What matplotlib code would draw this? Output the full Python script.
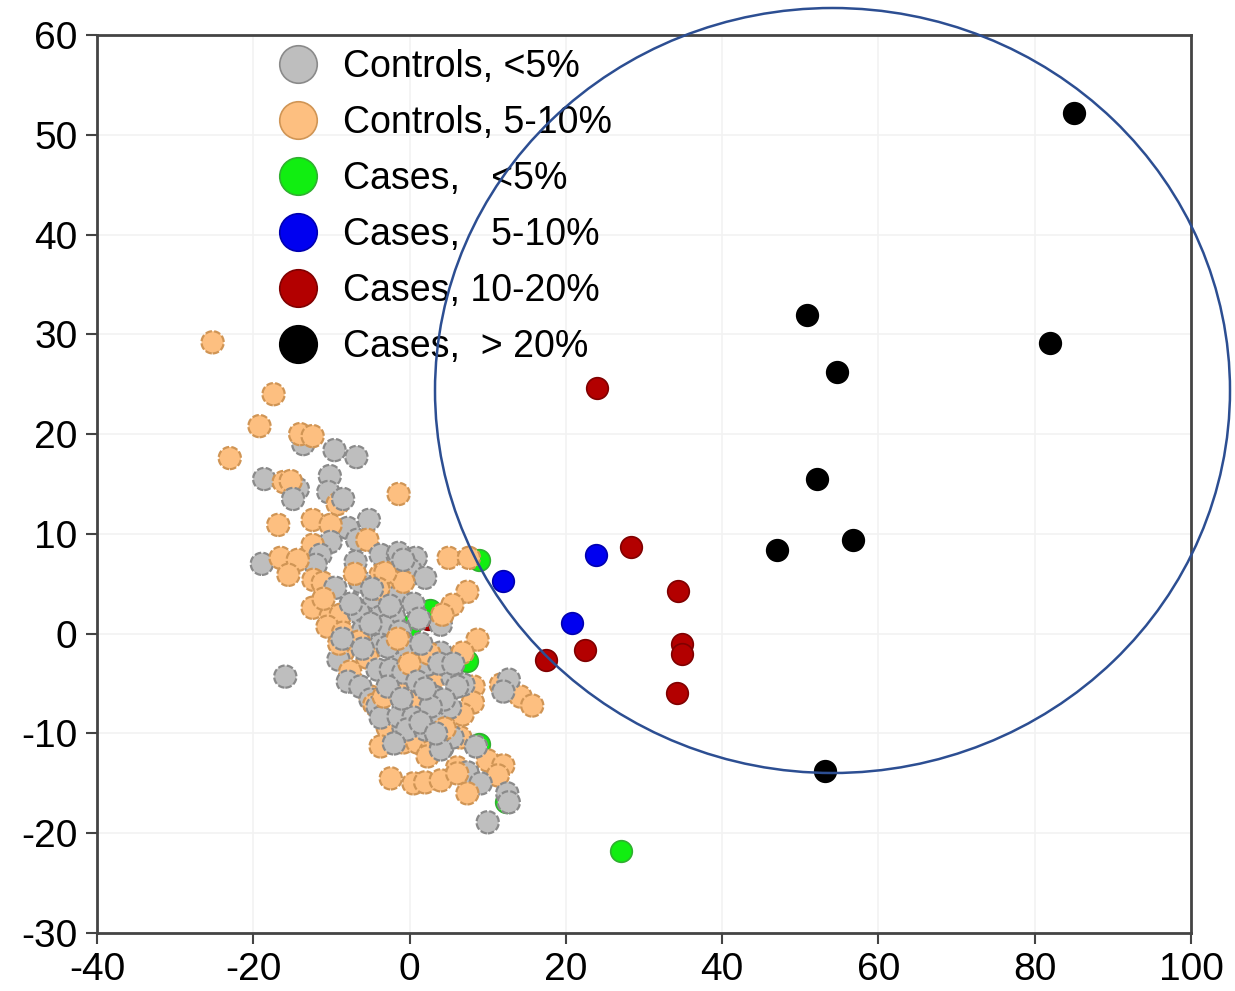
import matplotlib
matplotlib.use("Agg")
import matplotlib.pyplot as plt
from matplotlib.patches import Ellipse
from matplotlib.lines import Line2D

plt.rcParams['font.family'] = ['Liberation Sans', 'DejaVu Sans']

# ---------------- data ----------------
ctrl_lo_x = [-13.6, -9.6, -6.8, -18.6, -14.3, -10.2, -10.4, -14.9, -8.5, -7.9, -5.2, -6.7, -10.1,
             -18.9, -11.4, -12.0, -6.9, -3.7, -1.5, 0.8, 0.1, 2.0, -9.5, -6.3, -4.6, -1.5, -3.7,
             -6.5, -2.0, -5.9, -3.3, -1.2, 4.0, -3.7, -0.8, -9.1, -4.1, -1.5, -7.9, -6.3, -5.0,
             -4.1, -3.7, -0.8, 4.0, -0.3, -2.8, 2.3, -2.4, 5.5, 6.9, 3.1, 5.2, -1.4, 0.5, 3.3,
             12.7, 12.0, -0.3, 2.0, 4.2, 5.5, 8.5, 4.0, 7.4, 9.1, 12.5, 12.7, 10.0, -15.9, -1.4,
             -0.8, -0.8, -2.8, 6.1, 4.4, 2.7, 1.4,
             -7.5, -5.0, -2.5, 0.5, 1.5, 1.0, 3.8, -6.0, -8.6, -1.0, 2.0, 5.6, 3.4, -2.0, -4.8, 1.2]
ctrl_lo_y = [19.0, 18.4, 17.7, 15.5, 14.5, 15.8, 14.2, 13.5, 13.5, 10.6, 11.4, 9.4, 9.2,
             7.0, 7.9, 6.9, 7.2, 7.9, 7.8, 7.6, 6.4, 5.6, 4.6, 5.2, 3.6, 3.7, 1.7,
             2.1, 1.7, 0.4, 0.7, 0.2, 0.9, -1.1, -0.9, -2.6, -3.6, -2.6, -4.8, -5.3, -6.6,
             -7.3, -8.4, -9.3, -1.9, -1.3, -1.3, -3.1, -3.6, -4.4, -5.1, -6.3, -7.4, -8.3, -8.4, -8.9,
             -4.6, -5.8, -9.6, -9.6, -11.4, -10.4, -11.3, -11.6, -13.9, -15.0, -16.0, -16.9, -18.9, -4.3, 8.1,
             7.4, -3.9, -5.3, -5.3, -6.6, -7.3, -8.9,
             3.0, 1.0, 2.8, 3.0, -1.0, -4.8, -3.0, -1.5, -0.5, -6.5, -5.5, -3.0, -10.0, -11.0, 4.5, 1.5]

ctrl_mid_x = [-25.2, -17.4, -19.2, -14.0, -12.4, -23.0, -16.1, -15.2, -9.2, -16.8, -12.4, -10.1,
              -5.4, -12.4, -1.4, -16.5, -14.3, -15.5, -12.3, -11.1, -3.7, -2.0, -12.4, -10.1,
              -8.8, -10.5, -8.5, 5.0, 7.6, 7.4, 5.5, -0.8, -3.1, 4.2, 8.7, -8.5, -5.4, -7.6,
              -5.0, -3.1, -1.2, -4.5, -2.8, -3.7, -0.8, 6.8, 3.3, 8.2, 1.0, 8.1, 6.8, 11.7,
              14.2, 15.7, 1.0, 2.7, 6.5, 10.0, 12.0, 6.1, 2.3, 11.3, -2.4, 0.5, 2.0, 4.0, 6.1,
              7.4, -3.3,
              -9.0, -11.0, -7.0, -4.0, -1.5, 2.5, -6.5, 0.0, 4.5]
ctrl_mid_y = [29.2, 24.0, 20.8, 20.0, 19.8, 17.6, 15.2, 15.3, 13.0, 10.9, 11.4, 10.9,
              9.4, 8.9, 14.0, 7.6, 7.4, 5.9, 5.4, 5.1, 5.9, 5.4, 2.6, 1.7,
              1.9, 0.7, 0.1, 7.6, 7.6, 4.2, 2.9, 5.2, 6.1, 1.9, -0.6, -1.8, -2.4, -3.8,
              -6.3, -6.1, -5.4, -7.1, -9.4, -11.3, -10.9, -1.9, -4.4, -5.3, -6.6, -6.9, -8.1, -5.1,
              -6.3, -7.2, -10.9, -11.8, -10.4, -12.7, -13.2, -13.4, -12.3, -14.2, -14.5, -15.0, -14.9, -14.7, -14.0,
              -16.0, -6.3,
              -1.0, 3.5, 6.0, 4.5, -0.5, -2.0, -0.8, -3.0, -9.5]

case_lo_x = [8.9, 2.6, 0.1, 7.4, 8.9, 12.3, 27.0]
case_lo_y = [7.4, 2.4, 0.8, -2.7, -11.1, -16.9, -21.8]

case_mid_x = [23.9, 11.9, 20.8, 2.4]
case_mid_y = [7.9, 5.3, 1.1, -8.2]

case_hi_x = [24.0, 28.4, 34.4, 34.9, 34.8, 22.5, 17.4, 34.2, 2.4]
case_hi_y = [24.6, 8.7, 4.3, -1.0, -2.0, -1.6, -2.6, -5.9, 1.5]

case_vhi_x = [85.0, 50.8, 81.9, 54.7, 52.1, 47.0, 56.7, 53.1]
case_vhi_y = [52.2, 31.9, 29.1, 26.2, 15.5, 8.4, 9.4, -13.8]

labels = ["Controls, <5%", "Controls, 5-10%", "Cases,   <5%",
          "Cases,   5-10%", "Cases, 10-20%", "Cases,  > 20%"]

x_ticks = [-40, -20, 0, 20, 40, 60, 80, 100]
y_ticks = [-30, -20, -10, 0, 10, 20, 30, 40, 50, 60]

# ---------------- styles ----------------
faces = ["#BEBEBE", "#FDBF80", "#11EE11", "#0000F0", "#B30000", "#000000"]
edges = ["#8A8A8A", "#D09555", "#30B030", "#0000B0", "#800000", "#000000"]

fig = plt.figure(figsize=(12.35, 9.91), dpi=100)
ax = fig.add_axes([0.0785, 0.0585, 0.8859, 0.9062])

ax.set_xlim(-40, 100)
ax.set_ylim(-30, 60)
ax.set_xticks(x_ticks)
ax.set_yticks(y_ticks)
ax.grid(True, color="#F2F2F2", linewidth=1.2, zorder=0)
ax.set_axisbelow(True)

ms = 255
# cases beneath the control cloud
for xs, ys, fc, ec in [(case_vhi_x, case_vhi_y, faces[5], edges[5]),
                       (case_hi_x, case_hi_y, faces[4], edges[4]),
                       (case_mid_x, case_mid_y, faces[3], edges[3]),
                       (case_lo_x, case_lo_y, faces[2], edges[2])]:
    ax.scatter(xs, ys, s=ms * 0.95, c=fc, edgecolors=ec, linewidths=1.2, zorder=2)

# controls interleaved
n = max(len(ctrl_lo_x), len(ctrl_mid_x))
for i in range(n):
    if i < len(ctrl_mid_x):
        ax.scatter([ctrl_mid_x[i]], [ctrl_mid_y[i]], s=ms, c=faces[1], edgecolors=edges[1],
                   linewidths=1.6, linestyles=(0, (3, 1)), zorder=3)
    if i < len(ctrl_lo_x):
        ax.scatter([ctrl_lo_x[i]], [ctrl_lo_y[i]], s=ms, c=faces[0], edgecolors=edges[0],
                   linewidths=1.6, linestyles=(0, (3, 1)), zorder=3)

for sp in ax.spines.values():
    sp.set_color("#444444")
    sp.set_linewidth(2)

ax.tick_params(axis="both", labelsize=28, length=8, width=1.5, color="#444444",
               direction="out", pad=6)
ax.set_xticklabels([str(t) for t in x_ticks])
ax.set_yticklabels([str(t) for t in y_ticks])

handles = [Line2D([0], [0], marker="o", linestyle="none", markersize=27,
                  markerfacecolor=faces[i], markeredgecolor=edges[i], markeredgewidth=1.2)
           for i in range(6)]
leg = ax.legend(handles, labels, loc="upper left", bbox_to_anchor=(0.1665, 0.984),
                frameon=False, fontsize=27, handlelength=1.0, handletextpad=0.7,
                labelspacing=0.53, borderpad=0, borderaxespad=0)
leg.set_zorder(5)

ell = Ellipse((832.5 / 1235, 1 - 390.5 / 991), 795 / 1235, 765 / 991,
              transform=fig.transFigure, fill=False, edgecolor="#2C4E92",
              linewidth=1.8, zorder=10, clip_on=False)
fig.patches.append(ell)

fig.savefig("out.png", dpi=100)
